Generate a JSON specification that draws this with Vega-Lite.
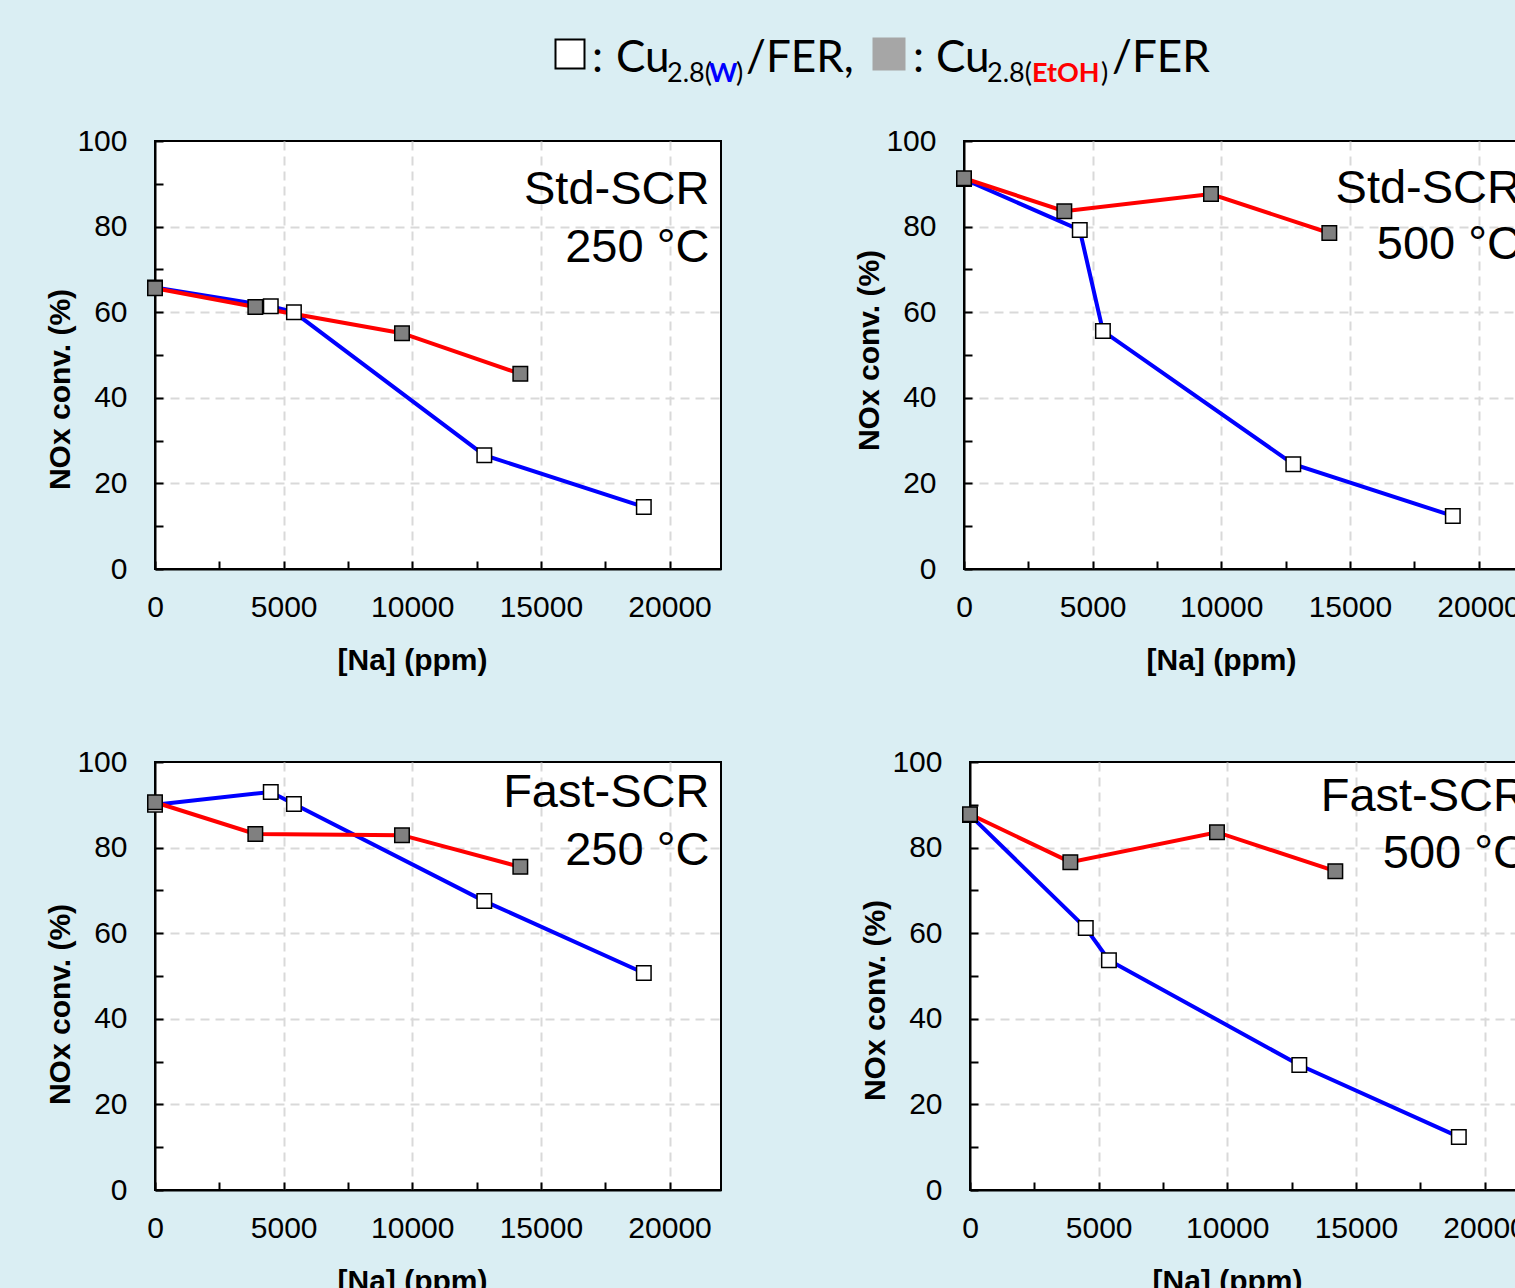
{
  "$schema": "https://vega.github.io/schema/vega-lite/v6.json",
  "background": "#daeef3",
  "padding": {"left": 44, "top": 0, "right": 0, "bottom": 0},
  "datasets": {
    "nox": [
      {"panel": "std250", "sample": "W", "na": 0, "conv": 65.8},
      {"panel": "std250", "sample": "W", "na": 4500, "conv": 61.4},
      {"panel": "std250", "sample": "W", "na": 5400, "conv": 60.0},
      {"panel": "std250", "sample": "W", "na": 12800, "conv": 26.6},
      {"panel": "std250", "sample": "W", "na": 19000, "conv": 14.5},
      {"panel": "std250", "sample": "EtOH", "na": 0, "conv": 65.6},
      {"panel": "std250", "sample": "EtOH", "na": 3900, "conv": 61.2},
      {"panel": "std250", "sample": "EtOH", "na": 9600, "conv": 55.1},
      {"panel": "std250", "sample": "EtOH", "na": 14200, "conv": 45.6},
      {"panel": "std500", "sample": "W", "na": 0, "conv": 91.1},
      {"panel": "std500", "sample": "W", "na": 4500, "conv": 79.2},
      {"panel": "std500", "sample": "W", "na": 5400, "conv": 55.6},
      {"panel": "std500", "sample": "W", "na": 12800, "conv": 24.5},
      {"panel": "std500", "sample": "W", "na": 19000, "conv": 12.4},
      {"panel": "std500", "sample": "EtOH", "na": 0, "conv": 91.3},
      {"panel": "std500", "sample": "EtOH", "na": 3900, "conv": 83.6},
      {"panel": "std500", "sample": "EtOH", "na": 9600, "conv": 87.6},
      {"panel": "std500", "sample": "EtOH", "na": 14200, "conv": 78.5},
      {"panel": "fast250", "sample": "W", "na": 0, "conv": 90.0},
      {"panel": "fast250", "sample": "W", "na": 4500, "conv": 93.0},
      {"panel": "fast250", "sample": "W", "na": 5400, "conv": 90.2},
      {"panel": "fast250", "sample": "W", "na": 12800, "conv": 67.5},
      {"panel": "fast250", "sample": "W", "na": 19000, "conv": 50.7},
      {"panel": "fast250", "sample": "EtOH", "na": 0, "conv": 90.6},
      {"panel": "fast250", "sample": "EtOH", "na": 3900, "conv": 83.2},
      {"panel": "fast250", "sample": "EtOH", "na": 9600, "conv": 82.9},
      {"panel": "fast250", "sample": "EtOH", "na": 14200, "conv": 75.5},
      {"panel": "fast500", "sample": "W", "na": 0, "conv": 87.6},
      {"panel": "fast500", "sample": "W", "na": 4500, "conv": 61.2},
      {"panel": "fast500", "sample": "W", "na": 5400, "conv": 53.7},
      {"panel": "fast500", "sample": "W", "na": 12800, "conv": 29.2},
      {"panel": "fast500", "sample": "W", "na": 19000, "conv": 12.4},
      {"panel": "fast500", "sample": "EtOH", "na": 0, "conv": 87.8},
      {"panel": "fast500", "sample": "EtOH", "na": 3900, "conv": 76.6},
      {"panel": "fast500", "sample": "EtOH", "na": 9600, "conv": 83.6},
      {"panel": "fast500", "sample": "EtOH", "na": 14200, "conv": 74.5}
    ],
    "notes": [
      {"panel": "std250", "gas": "Std-SCR", "temp": "250 °C"},
      {"panel": "std500", "gas": "Std-SCR", "temp": "500 °C"},
      {"panel": "fast250", "gas": "Fast-SCR", "temp": "250 °C"},
      {"panel": "fast500", "gas": "Fast-SCR", "temp": "500 °C"}
    ]
  },
  "spacing": 15,
  "vconcat": [
    {
      "width": 1300,
      "height": 110,
      "view": {"stroke": null, "fill": null},
      "data": {"values": [{}]},
      "layer": [
        {"mark": {"type": "point", "shape": "square", "filled": true, "fill": "#ffffff", "stroke": "#000000", "strokeWidth": 2, "size": 841, "opacity": 1},
         "encoding": {"x": {"datum": 570, "type": "quantitative", "scale": {"domain": [155, 1455], "nice": false, "zero": false}, "axis": null}, "y": {"datum": 54, "type": "quantitative", "scale": {"domain": [110, 0], "nice": false, "zero": false}, "axis": null}}},
        {"mark": {"type": "text", "text": ":", "align": "left", "baseline": "alphabetic", "font": "Lato", "fontSize": 44, "color": "#000000"},
         "encoding": {"x": {"datum": 592, "type": "quantitative", "scale": {"domain": [155, 1455], "nice": false, "zero": false}, "axis": null}, "y": {"datum": 72, "type": "quantitative", "scale": {"domain": [110, 0], "nice": false, "zero": false}, "axis": null}}},
        {"mark": {"type": "text", "text": "Cu", "align": "left", "baseline": "alphabetic", "font": "Lato", "fontSize": 44, "color": "#000000"},
         "encoding": {"x": {"datum": 616, "type": "quantitative", "scale": {"domain": [155, 1455], "nice": false, "zero": false}, "axis": null}, "y": {"datum": 72, "type": "quantitative", "scale": {"domain": [110, 0], "nice": false, "zero": false}, "axis": null}}},
        {"mark": {"type": "text", "text": "2.8(", "align": "left", "baseline": "alphabetic", "font": "Lato", "fontSize": 27, "color": "#000000"},
         "encoding": {"x": {"datum": 667, "type": "quantitative", "scale": {"domain": [155, 1455], "nice": false, "zero": false}, "axis": null}, "y": {"datum": 82, "type": "quantitative", "scale": {"domain": [110, 0], "nice": false, "zero": false}, "axis": null}}},
        {"mark": {"type": "text", "text": "W", "align": "left", "baseline": "alphabetic", "font": "Lato", "fontSize": 27, "fontWeight": "bold", "color": "#0000ff"},
         "encoding": {"x": {"datum": 709, "type": "quantitative", "scale": {"domain": [155, 1455], "nice": false, "zero": false}, "axis": null}, "y": {"datum": 82, "type": "quantitative", "scale": {"domain": [110, 0], "nice": false, "zero": false}, "axis": null}}},
        {"mark": {"type": "text", "text": ")", "align": "left", "baseline": "alphabetic", "font": "Lato", "fontSize": 27, "color": "#000000"},
         "encoding": {"x": {"datum": 736, "type": "quantitative", "scale": {"domain": [155, 1455], "nice": false, "zero": false}, "axis": null}, "y": {"datum": 82, "type": "quantitative", "scale": {"domain": [110, 0], "nice": false, "zero": false}, "axis": null}}},
        {"mark": {"type": "text", "text": "/FER,", "align": "left", "baseline": "alphabetic", "font": "Lato", "fontSize": 44, "color": "#000000"},
         "encoding": {"x": {"datum": 746, "type": "quantitative", "scale": {"domain": [155, 1455], "nice": false, "zero": false}, "axis": null}, "y": {"datum": 72, "type": "quantitative", "scale": {"domain": [110, 0], "nice": false, "zero": false}, "axis": null}}},
        {"mark": {"type": "point", "shape": "square", "filled": true, "fill": "#a6a6a6", "strokeWidth": 0, "size": 1089, "opacity": 1},
         "encoding": {"x": {"datum": 889, "type": "quantitative", "scale": {"domain": [155, 1455], "nice": false, "zero": false}, "axis": null}, "y": {"datum": 54, "type": "quantitative", "scale": {"domain": [110, 0], "nice": false, "zero": false}, "axis": null}}},
        {"mark": {"type": "text", "text": ":", "align": "left", "baseline": "alphabetic", "font": "Lato", "fontSize": 44, "color": "#000000"},
         "encoding": {"x": {"datum": 913, "type": "quantitative", "scale": {"domain": [155, 1455], "nice": false, "zero": false}, "axis": null}, "y": {"datum": 72, "type": "quantitative", "scale": {"domain": [110, 0], "nice": false, "zero": false}, "axis": null}}},
        {"mark": {"type": "text", "text": "Cu", "align": "left", "baseline": "alphabetic", "font": "Lato", "fontSize": 44, "color": "#000000"},
         "encoding": {"x": {"datum": 936, "type": "quantitative", "scale": {"domain": [155, 1455], "nice": false, "zero": false}, "axis": null}, "y": {"datum": 72, "type": "quantitative", "scale": {"domain": [110, 0], "nice": false, "zero": false}, "axis": null}}},
        {"mark": {"type": "text", "text": "2.8(", "align": "left", "baseline": "alphabetic", "font": "Lato", "fontSize": 27, "color": "#000000"},
         "encoding": {"x": {"datum": 987, "type": "quantitative", "scale": {"domain": [155, 1455], "nice": false, "zero": false}, "axis": null}, "y": {"datum": 82, "type": "quantitative", "scale": {"domain": [110, 0], "nice": false, "zero": false}, "axis": null}}},
        {"mark": {"type": "text", "text": "EtOH", "align": "left", "baseline": "alphabetic", "font": "Lato", "fontSize": 27, "fontWeight": "bold", "color": "#ff0000"},
         "encoding": {"x": {"datum": 1032, "type": "quantitative", "scale": {"domain": [155, 1455], "nice": false, "zero": false}, "axis": null}, "y": {"datum": 82, "type": "quantitative", "scale": {"domain": [110, 0], "nice": false, "zero": false}, "axis": null}}},
        {"mark": {"type": "text", "text": ")", "align": "left", "baseline": "alphabetic", "font": "Lato", "fontSize": 27, "color": "#000000"},
         "encoding": {"x": {"datum": 1101, "type": "quantitative", "scale": {"domain": [155, 1455], "nice": false, "zero": false}, "axis": null}, "y": {"datum": 82, "type": "quantitative", "scale": {"domain": [110, 0], "nice": false, "zero": false}, "axis": null}}},
        {"mark": {"type": "text", "text": "/FER", "align": "left", "baseline": "alphabetic", "font": "Lato", "fontSize": 44, "color": "#000000"},
         "encoding": {"x": {"datum": 1112, "type": "quantitative", "scale": {"domain": [155, 1455], "nice": false, "zero": false}, "axis": null}, "y": {"datum": 72, "type": "quantitative", "scale": {"domain": [110, 0], "nice": false, "zero": false}, "axis": null}}}
      ]
    },
    {
      "spacing": 70,
      "vconcat": [
        {
          "spacing": 131,
          "hconcat": [
            {
              "width": 566, "height": 428,
              "layer": [
                {
                  "data": {"name": "nox"},
                  "encoding": {
                    "x": {"field": "na", "type": "quantitative", "scale": {"domain": [0, 22000], "nice": false, "zero": false},
                          "axis": {"title": "[Na] (ppm)", "titleX": 257, "values": [0, 2500, 5000, 7500, 10000, 12500, 15000, 17500, 20000], "format": "d",
                                   "labelExpr": "datum.value % 5000 === 0 ? datum.label : ''",
                                   "gridOpacity": {"condition": {"test": "datum.value % 5000 === 0 && datum.value > 0", "value": 1}, "value": 0}}},
                    "y": {"field": "conv", "type": "quantitative", "scale": {"domain": [0, 100], "nice": false},
                          "axis": {"title": "NOx conv. (%)", "titleY": 248, "values": [0, 10, 20, 30, 40, 50, 60, 70, 80, 90, 100],
                                   "labelExpr": "datum.value % 20 === 0 ? datum.label : ''",
                                   "gridOpacity": {"condition": {"test": "datum.value % 20 === 0 && datum.value > 0 && datum.value < 100", "value": 1}, "value": 0}}}
                  },
                  "layer": [
                    {"transform": [{"filter": "datum.panel === 'std250' && datum.sample === 'W'"}], "mark": {"type": "line", "color": "#0000ff", "strokeWidth": 4}},
                    {"transform": [{"filter": "datum.panel === 'std250' && datum.sample === 'EtOH'"}], "mark": {"type": "line", "color": "#ff0000", "strokeWidth": 4}},
                    {"transform": [{"filter": "datum.panel === 'std250' && datum.sample === 'W'"}], "mark": {"type": "point", "shape": "square", "filled": true, "fill": "#ffffff", "stroke": "#000000", "strokeWidth": 1.5, "size": 210, "opacity": 1}},
                    {"transform": [{"filter": "datum.panel === 'std250' && datum.sample === 'EtOH'"}], "mark": {"type": "point", "shape": "square", "filled": true, "fill": "#808080", "stroke": "#000000", "strokeWidth": 1.5, "size": 210, "opacity": 1}}
                  ]
                },
                {"data": {"name": "notes"}, "transform": [{"filter": "datum.panel === 'std250'"}],
                 "mark": {"type": "text", "align": "right", "baseline": "alphabetic", "font": "Liberation Sans", "fontSize": 47, "color": "#000000"},
                 "encoding": {"text": {"field": "gas", "type": "nominal"}, "x": {"datum": 21550, "type": "quantitative"}, "y": {"datum": 85.3, "type": "quantitative"}}},
                {"data": {"name": "notes"}, "transform": [{"filter": "datum.panel === 'std250'"}],
                 "mark": {"type": "text", "align": "right", "baseline": "alphabetic", "font": "Liberation Sans", "fontSize": 47, "color": "#000000"},
                 "encoding": {"text": {"field": "temp", "type": "nominal"}, "x": {"datum": 21550, "type": "quantitative"}, "y": {"datum": 71.7, "type": "quantitative"}}}
              ]
            },
            {
              "width": 566, "height": 428,
              "layer": [
                {
                  "data": {"name": "nox"},
                  "encoding": {
                    "x": {"field": "na", "type": "quantitative", "scale": {"domain": [0, 22000], "nice": false, "zero": false},
                          "axis": {"title": "[Na] (ppm)", "titleX": 257, "values": [0, 2500, 5000, 7500, 10000, 12500, 15000, 17500, 20000], "format": "d",
                                   "labelExpr": "datum.value % 5000 === 0 ? datum.label : ''",
                                   "gridOpacity": {"condition": {"test": "datum.value % 5000 === 0 && datum.value > 0", "value": 1}, "value": 0}}},
                    "y": {"field": "conv", "type": "quantitative", "scale": {"domain": [0, 100], "nice": false},
                          "axis": {"title": "NOx conv. (%)", "titleY": 209, "values": [0, 10, 20, 30, 40, 50, 60, 70, 80, 90, 100],
                                   "labelExpr": "datum.value % 20 === 0 ? datum.label : ''",
                                   "gridOpacity": {"condition": {"test": "datum.value % 20 === 0 && datum.value > 0 && datum.value < 100", "value": 1}, "value": 0}}}
                  },
                  "layer": [
                    {"transform": [{"filter": "datum.panel === 'std500' && datum.sample === 'W'"}], "mark": {"type": "line", "color": "#0000ff", "strokeWidth": 4}},
                    {"transform": [{"filter": "datum.panel === 'std500' && datum.sample === 'EtOH'"}], "mark": {"type": "line", "color": "#ff0000", "strokeWidth": 4}},
                    {"transform": [{"filter": "datum.panel === 'std500' && datum.sample === 'W'"}], "mark": {"type": "point", "shape": "square", "filled": true, "fill": "#ffffff", "stroke": "#000000", "strokeWidth": 1.5, "size": 210, "opacity": 1}},
                    {"transform": [{"filter": "datum.panel === 'std500' && datum.sample === 'EtOH'"}], "mark": {"type": "point", "shape": "square", "filled": true, "fill": "#808080", "stroke": "#000000", "strokeWidth": 1.5, "size": 210, "opacity": 1}}
                  ]
                },
                {"data": {"name": "notes"}, "transform": [{"filter": "datum.panel === 'std500'"}],
                 "mark": {"type": "text", "align": "right", "baseline": "alphabetic", "font": "Liberation Sans", "fontSize": 47, "color": "#000000"},
                 "encoding": {"text": {"field": "gas", "type": "nominal"}, "x": {"datum": 21650, "type": "quantitative"}, "y": {"datum": 85.5, "type": "quantitative"}}},
                {"data": {"name": "notes"}, "transform": [{"filter": "datum.panel === 'std500'"}],
                 "mark": {"type": "text", "align": "right", "baseline": "alphabetic", "font": "Liberation Sans", "fontSize": 47, "color": "#000000"},
                 "encoding": {"text": {"field": "temp", "type": "nominal"}, "x": {"datum": 21650, "type": "quantitative"}, "y": {"datum": 72.4, "type": "quantitative"}}}
              ]
            }
          ]
        },
        {
          "spacing": 137,
          "hconcat": [
            {
              "width": 566, "height": 428,
              "layer": [
                {
                  "data": {"name": "nox"},
                  "encoding": {
                    "x": {"field": "na", "type": "quantitative", "scale": {"domain": [0, 22000], "nice": false, "zero": false},
                          "axis": {"title": "[Na] (ppm)", "titleX": 257, "values": [0, 2500, 5000, 7500, 10000, 12500, 15000, 17500, 20000], "format": "d",
                                   "labelExpr": "datum.value % 5000 === 0 ? datum.label : ''",
                                   "gridOpacity": {"condition": {"test": "datum.value % 5000 === 0 && datum.value > 0", "value": 1}, "value": 0}}},
                    "y": {"field": "conv", "type": "quantitative", "scale": {"domain": [0, 100], "nice": false},
                          "axis": {"title": "NOx conv. (%)", "titleY": 242, "values": [0, 10, 20, 30, 40, 50, 60, 70, 80, 90, 100],
                                   "labelExpr": "datum.value % 20 === 0 ? datum.label : ''",
                                   "gridOpacity": {"condition": {"test": "datum.value % 20 === 0 && datum.value > 0 && datum.value < 100", "value": 1}, "value": 0}}}
                  },
                  "layer": [
                    {"transform": [{"filter": "datum.panel === 'fast250' && datum.sample === 'W'"}], "mark": {"type": "line", "color": "#0000ff", "strokeWidth": 4}},
                    {"transform": [{"filter": "datum.panel === 'fast250' && datum.sample === 'EtOH'"}], "mark": {"type": "line", "color": "#ff0000", "strokeWidth": 4}},
                    {"transform": [{"filter": "datum.panel === 'fast250' && datum.sample === 'W'"}], "mark": {"type": "point", "shape": "square", "filled": true, "fill": "#ffffff", "stroke": "#000000", "strokeWidth": 1.5, "size": 210, "opacity": 1}},
                    {"transform": [{"filter": "datum.panel === 'fast250' && datum.sample === 'EtOH'"}], "mark": {"type": "point", "shape": "square", "filled": true, "fill": "#808080", "stroke": "#000000", "strokeWidth": 1.5, "size": 210, "opacity": 1}}
                  ]
                },
                {"data": {"name": "notes"}, "transform": [{"filter": "datum.panel === 'fast250'"}],
                 "mark": {"type": "text", "align": "right", "baseline": "alphabetic", "font": "Liberation Sans", "fontSize": 47, "color": "#000000"},
                 "encoding": {"text": {"field": "gas", "type": "nominal"}, "x": {"datum": 21550, "type": "quantitative"}, "y": {"datum": 89.5, "type": "quantitative"}}},
                {"data": {"name": "notes"}, "transform": [{"filter": "datum.panel === 'fast250'"}],
                 "mark": {"type": "text", "align": "right", "baseline": "alphabetic", "font": "Liberation Sans", "fontSize": 47, "color": "#000000"},
                 "encoding": {"text": {"field": "temp", "type": "nominal"}, "x": {"datum": 21550, "type": "quantitative"}, "y": {"datum": 75.9, "type": "quantitative"}}}
              ]
            },
            {
              "width": 566, "height": 428,
              "layer": [
                {
                  "data": {"name": "nox"},
                  "encoding": {
                    "x": {"field": "na", "type": "quantitative", "scale": {"domain": [0, 22000], "nice": false, "zero": false},
                          "axis": {"title": "[Na] (ppm)", "titleX": 257, "values": [0, 2500, 5000, 7500, 10000, 12500, 15000, 17500, 20000], "format": "d",
                                   "labelExpr": "datum.value % 5000 === 0 ? datum.label : ''",
                                   "gridOpacity": {"condition": {"test": "datum.value % 5000 === 0 && datum.value > 0", "value": 1}, "value": 0}}},
                    "y": {"field": "conv", "type": "quantitative", "scale": {"domain": [0, 100], "nice": false},
                          "axis": {"title": "NOx conv. (%)", "titleY": 238, "values": [0, 10, 20, 30, 40, 50, 60, 70, 80, 90, 100],
                                   "labelExpr": "datum.value % 20 === 0 ? datum.label : ''",
                                   "gridOpacity": {"condition": {"test": "datum.value % 20 === 0 && datum.value > 0 && datum.value < 100", "value": 1}, "value": 0}}}
                  },
                  "layer": [
                    {"transform": [{"filter": "datum.panel === 'fast500' && datum.sample === 'W'"}], "mark": {"type": "line", "color": "#0000ff", "strokeWidth": 4}},
                    {"transform": [{"filter": "datum.panel === 'fast500' && datum.sample === 'EtOH'"}], "mark": {"type": "line", "color": "#ff0000", "strokeWidth": 4}},
                    {"transform": [{"filter": "datum.panel === 'fast500' && datum.sample === 'W'"}], "mark": {"type": "point", "shape": "square", "filled": true, "fill": "#ffffff", "stroke": "#000000", "strokeWidth": 1.5, "size": 210, "opacity": 1}},
                    {"transform": [{"filter": "datum.panel === 'fast500' && datum.sample === 'EtOH'"}], "mark": {"type": "point", "shape": "square", "filled": true, "fill": "#808080", "stroke": "#000000", "strokeWidth": 1.5, "size": 210, "opacity": 1}}
                  ]
                },
                {"data": {"name": "notes"}, "transform": [{"filter": "datum.panel === 'fast500'"}],
                 "mark": {"type": "text", "align": "right", "baseline": "alphabetic", "font": "Liberation Sans", "fontSize": 47, "color": "#000000"},
                 "encoding": {"text": {"field": "gas", "type": "nominal"}, "x": {"datum": 21650, "type": "quantitative"}, "y": {"datum": 88.6, "type": "quantitative"}}},
                {"data": {"name": "notes"}, "transform": [{"filter": "datum.panel === 'fast500'"}],
                 "mark": {"type": "text", "align": "right", "baseline": "alphabetic", "font": "Liberation Sans", "fontSize": 47, "color": "#000000"},
                 "encoding": {"text": {"field": "temp", "type": "nominal"}, "x": {"datum": 21650, "type": "quantitative"}, "y": {"datum": 75.2, "type": "quantitative"}}}
              ]
            }
          ]
        }
      ]
    }
  ],
  "config": {
    "view": {"stroke": "#000000", "strokeWidth": 2, "fill": "#ffffff"},
    "axis": {
      "grid": true,
      "domainColor": "#000000", "domainWidth": 2,
      "tickColor": "#000000", "tickWidth": 2, "tickSize": -8,
      "labelFont": "Liberation Sans", "labelFontSize": 30, "labelColor": "#000000",
      "labelOverlap": false, "labelFlush": false,
      "titleFont": "Liberation Sans", "titleFontSize": 30, "titleFontWeight": "bold", "titleColor": "#000000",
      "gridColor": "#d9d9d9", "gridDash": [9, 6], "gridWidth": 2
    },
    "axisX": {"labelPadding": 31, "titlePadding": 23},
    "axisY": {"labelPadding": 36, "titlePadding": 1}
  }
}
